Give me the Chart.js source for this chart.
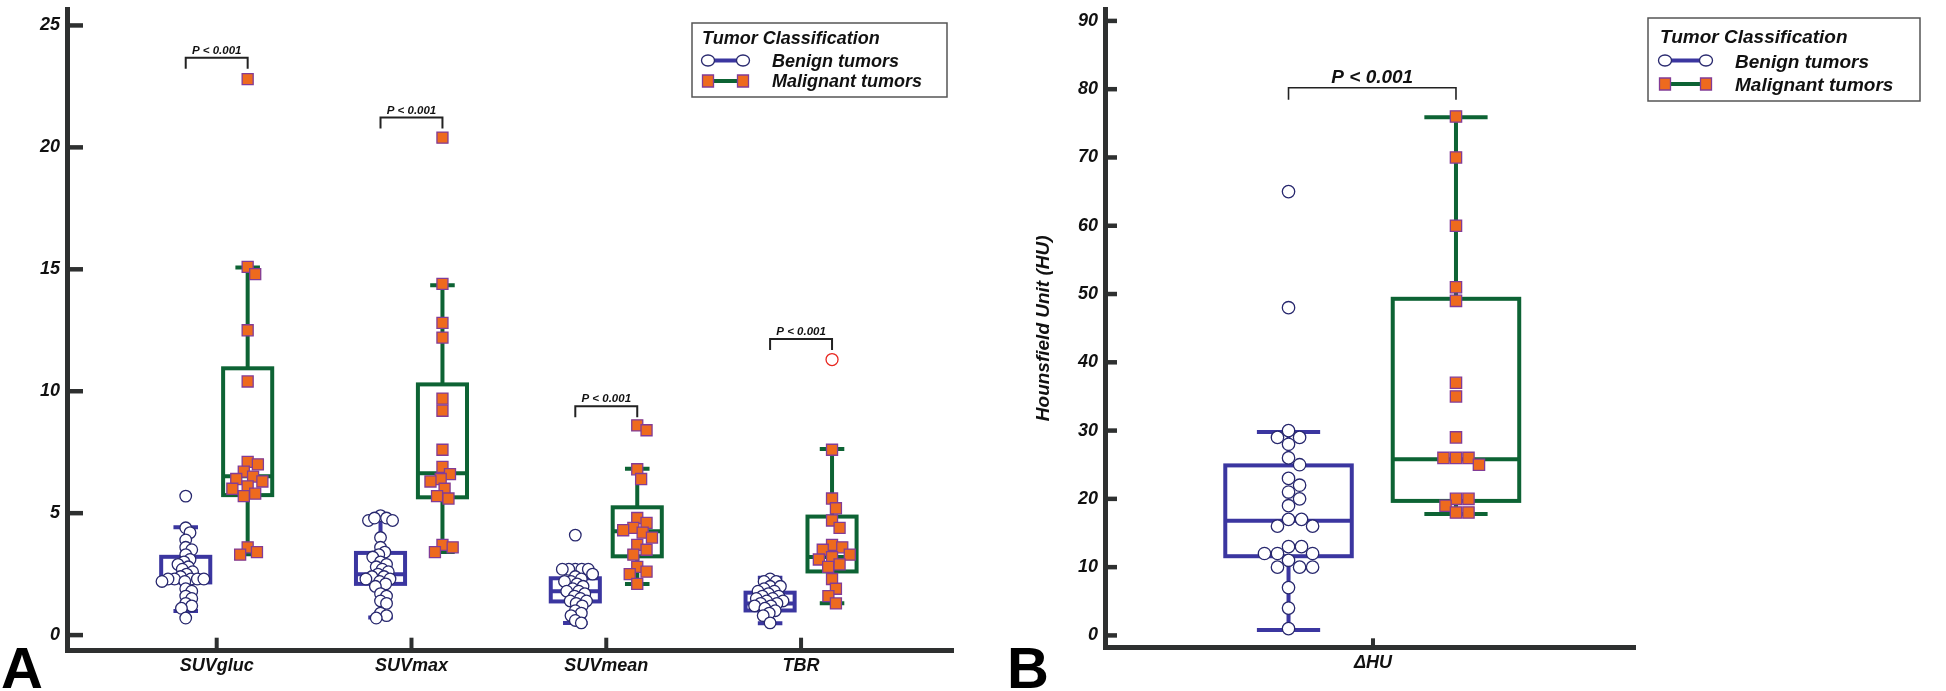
<!DOCTYPE html>
<html>
<head>
<meta charset="utf-8">
<script src="https://cdn.jsdelivr.net/npm/chart.js@4.4.0/dist/chart.umd.min.js"></script>
<style>
    html, body { margin: 0; padding: 0; background: #fff; }
    #wrap { position: relative; width: 1946px; height: 691px; overflow: hidden; }
    canvas { position: absolute; top: 0; }
    #chartA { left: 0; }
    #chartB { left: 1000px; }
</style>
</head>
<body>
<div id="wrap">
    <canvas id="chartA" width="1000" height="691"></canvas>
    <canvas id="chartB" width="946" height="691"></canvas>
</div>
<script>
// ---- panel A ----
var categoriesA = ['SUVgluc', 'SUVmax', 'SUVmean', 'TBR'];
var yTicksA = [0, 5, 10, 15, 20, 25];

var benignSUVgluc = [5.7, 4.4, 4.2, 3.9, 3.6, 3.5, 3.3, 3.1, 3.0, 2.9, 2.8, 2.7, 2.6, 2.5, 2.4, 2.3, 2.3, 2.3, 2.3, 2.3, 2.2, 2.2, 1.9, 1.8, 1.6, 1.5, 1.3, 1.2, 1.1, 0.7];
var malignantSUVgluc = [22.8, 15.1, 14.8, 12.5, 10.4, 7.1, 7.0, 6.7, 6.5, 6.4, 6.3, 6.1, 6.0, 5.8, 5.7, 3.6, 3.4, 3.3];
var benignSUVmax = [4.9, 4.8, 4.7, 4.7, 4.8, 4.0, 3.6, 3.4, 3.3, 3.2, 3.0, 2.9, 2.8, 2.7, 2.6, 2.5, 2.4, 2.4, 2.3, 2.3, 2.2, 2.1, 2.0, 1.7, 1.6, 1.4, 1.3, 0.9, 0.8, 0.7];
var malignantSUVmax = [20.4, 14.4, 12.8, 12.2, 9.7, 9.2, 7.6, 6.9, 6.6, 6.4, 6.3, 6.0, 5.7, 5.6, 3.7, 3.6, 3.4];
var benignSUVmean = [4.1, 2.7, 2.7, 2.7, 2.7, 2.7, 2.5, 2.4, 2.3, 2.2, 2.2, 2.1, 2.0, 1.9, 1.8, 1.8, 1.7, 1.6, 1.5, 1.4, 1.4, 1.3, 1.2, 1.0, 0.9, 0.8, 0.6, 0.5];
var malignantSUVmean = [8.6, 8.4, 6.8, 6.4, 4.8, 4.6, 4.4, 4.3, 4.2, 4.0, 3.7, 3.5, 3.3, 2.8, 2.6, 2.5, 2.1];
var benignTBR = [2.3, 2.2, 2.2, 2.0, 2.0, 1.9, 1.8, 1.8, 1.7, 1.6, 1.6, 1.5, 1.5, 1.4, 1.4, 1.3, 1.3, 1.2, 1.2, 1.1, 1.0, 0.9, 0.8, 0.5];
var malignantTBR = [7.6, 5.6, 5.2, 4.7, 4.4, 3.7, 3.6, 3.5, 3.3, 3.2, 3.1, 2.9, 2.8, 2.3, 1.9, 1.6, 1.3];
var outlierTBR = [11.3];

// box stats: [whisker low, q1, median, q3, whisker high]
var benignBoxA = [[0.99, 2.16, 2.3, 3.21, 4.42], [0.72, 2.1, 2.5, 3.37, 4.84], [0.5, 1.38, 1.8, 2.33, 2.7], [0.49, 1.01, 1.3, 1.74, 2.35]];
var malignantBoxA = [[3.32, 5.74, 6.51, 10.94, 15.07], [3.41, 5.65, 6.64, 10.28, 14.35], [2.1, 3.23, 4.26, 5.24, 6.82], [1.31, 2.61, 3.2, 4.86, 7.63]];
var bracketA = [23.68, 21.22, 9.38, 12.14];
var pTextA = ['P < 0.001', 'P < 0.001', 'P < 0.001', 'P < 0.001'];

// ---- panel B ----
var categoriesB = ['\u0394HU'];
var yTicksB = [0, 10, 20, 30, 40, 50, 60, 70, 80, 90];
var benignHU = [65, 48, 30, 29, 29, 28, 26, 25, 23, 22, 21, 20, 19, 17, 17, 16, 16, 13, 13, 12, 12, 12, 11, 10, 10, 10, 7, 4, 1];
var malignantHU = [76, 70, 60, 51, 49, 37, 35, 29, 26, 26, 26, 25, 20, 20, 19, 18, 18];
var benignBoxB = [[0.8, 11.6, 16.8, 24.9, 29.8]];
var malignantBoxB = [[17.8, 19.7, 25.8, 49.3, 75.9]];
var bracketB = [80.2];
var pTextB = ['P < 0.001'];

var seriesNames = ['Benign tumors', 'Malignant tumors'];
var legendTitle = 'Tumor Classification';
var yTitleB = 'Hounsfield Unit (HU)';

// ---- styles ----
var FONT = "'Liberation Sans', Arial, sans-serif";
var AXIS = '#2e3030';
var BLUE = '#3b36a0';
var GREEN = '#0d6334';
var ORANGE = '#ee6a1e';
var SQ_EDGE = '#823c96';
var CIRC_EDGE = '#28286e';

Chart.defaults.font.family = FONT;

function swarm(values, toPix, d) {
    var placed = [];
    var out = new Array(values.length);
    var order = values.map(function(v, i) { return i; }).sort(function(a, b) { return values[b] - values[a]; });
    order.forEach(function(i) {
        var y = toPix(values[i]);
        var near = placed.filter(function(p) { return Math.abs(p.y - y) < d; });
        var cands = [0];
        near.forEach(function(p) {
            var dx = Math.sqrt(d * d - (p.y - y) * (p.y - y));
            cands.push(p.x + dx, p.x - dx);
        });
        cands.sort(function(a, b) { return Math.abs(a) - Math.abs(b); });
        var x = cands.find(function(c) {
            return near.every(function(p) { return (p.x - c) * (p.x - c) + (p.y - y) * (p.y - y) >= d * d - 0.01; });
        });
        placed.push({ x: x, y: y });
        out[i] = x;
    });
    return out;
}

function points(groups, offset) {
    var data = [];
    groups.forEach(function(vals, i) {
        vals.forEach(function(v) { data.push({ x: i + 1 + offset, y: v }); });
    });
    return data;
}

function applySwarm(chart, dsIndex, groups, offset, d) {
    var xs = chart.scales.x, ys = chart.scales.y;
    var unit = xs.getPixelForValue(1) - xs.getPixelForValue(0);
    var data = [];
    groups.forEach(function(vals, i) {
        var offs = swarm(vals, function(v) { return ys.getPixelForValue(v); }, d);
        vals.forEach(function(v, k) { data.push({ x: i + 1 + offset + offs[k] / unit, y: v }); });
    });
    chart.data.datasets[dsIndex].data = data;
}

var boxPlugin = {
    id: 'boxes',
    beforeDatasetsDraw: function(chart, args, opts) {
        var ctx = chart.ctx, xs = chart.scales.x, ys = chart.scales.y, area = chart.chartArea;
        ctx.save();
        // inward tick marks
        ctx.strokeStyle = AXIS;
        ctx.lineWidth = 4.5;
        ys.ticks.forEach(function(t) {
            var py = ys.getPixelForValue(t.value);
            ctx.beginPath();
            ctx.moveTo(area.left, py);
            ctx.lineTo(area.left + opts.yTick, py);
            ctx.stroke();
        });
        ctx.lineWidth = 4;
        xs.ticks.forEach(function(t) {
            var px = xs.getPixelForValue(t.value);
            ctx.beginPath();
            ctx.moveTo(px, area.bottom);
            ctx.lineTo(px, area.bottom - opts.xTick);
            ctx.stroke();
        });
        // box plots
        opts.groups.forEach(function(g) {
            g.stats.forEach(function(s, i) {
                var c = i + 1 + g.offset;
                var cx = xs.getPixelForValue(c);
                var half = xs.getPixelForValue(c + opts.half) - cx;
                var cap = half / 2;
                var lo = ys.getPixelForValue(s[0]), q1 = ys.getPixelForValue(s[1]);
                var md = ys.getPixelForValue(s[2]), q3 = ys.getPixelForValue(s[3]);
                var hi = ys.getPixelForValue(s[4]);
                ctx.strokeStyle = g.color;
                ctx.lineWidth = opts.lineWidth;
                ctx.beginPath();
                ctx.moveTo(cx, q3); ctx.lineTo(cx, hi);
                ctx.moveTo(cx, q1); ctx.lineTo(cx, lo);
                ctx.moveTo(cx - cap, hi); ctx.lineTo(cx + cap, hi);
                ctx.moveTo(cx - cap, lo); ctx.lineTo(cx + cap, lo);
                ctx.moveTo(cx - half, md); ctx.lineTo(cx + half, md);
                ctx.stroke();
                ctx.strokeRect(cx - half, q3, 2 * half, q1 - q3);
            });
        });
        ctx.restore();
    },
    afterDatasetsDraw: function(chart, args, opts) {
        var ctx = chart.ctx, xs = chart.scales.x, ys = chart.scales.y;
        ctx.save();
        // p-value brackets
        opts.brackets.forEach(function(b, i) {
            var x1 = xs.getPixelForValue(i + 1 + opts.groups[0].offset);
            var x2 = xs.getPixelForValue(i + 1 + opts.groups[1].offset);
            var py = ys.getPixelForValue(b);
            ctx.strokeStyle = '#222';
            ctx.lineWidth = opts.bracketWidth;
            ctx.beginPath();
            ctx.moveTo(x1, py + opts.bracketTick);
            ctx.lineTo(x1, py);
            ctx.lineTo(x2, py);
            ctx.lineTo(x2, py + opts.bracketTick);
            ctx.stroke();
            ctx.fillStyle = '#111';
            ctx.font = 'italic bold ' + opts.pSize + 'px ' + FONT;
            ctx.textAlign = 'center';
            ctx.textBaseline = 'alphabetic';
            ctx.fillText(opts.pText[i], (x1 + x2) / 2, py - opts.pGap);
        });
        ctx.restore();
    },
    afterDraw: function(chart, args, opts) {
        var ctx = chart.ctx, L = opts.legend;
        ctx.save();
        ctx.strokeStyle = '#555';
        ctx.lineWidth = 1.5;
        ctx.strokeRect(L.x, L.y, L.w, L.h);
        ctx.fillStyle = '#111';
        ctx.font = 'italic bold ' + L.size + 'px ' + FONT;
        ctx.textAlign = 'left';
        ctx.textBaseline = 'alphabetic';
        ctx.fillText(legendTitle, L.titleX, L.titleY);
        var ds = chart.data.datasets;
        [0, 1].forEach(function(k) {
            var sy = L.rowY[k];
            var d = ds[k];
            ctx.strokeStyle = k === 0 ? BLUE : GREEN;
            ctx.lineWidth = 4;
            ctx.beginPath();
            ctx.moveTo(L.m1, sy);
            ctx.lineTo(L.m2, sy);
            ctx.stroke();
            [L.m1, L.m2].forEach(function(mx) {
                ctx.fillStyle = d.backgroundColor;
                ctx.strokeStyle = d.borderColor;
                ctx.lineWidth = 1.3;
                ctx.beginPath();
                if (d.pointStyle === 'rect') {
                    ctx.rect(mx - 5.5, sy - 6, 11, 12);
                } else {
                    ctx.ellipse(mx, sy, 6.5, 5.5, 0, 0, Math.PI * 2);
                }
                ctx.fill();
                ctx.stroke();
            });
            ctx.fillStyle = '#111';
            ctx.fillText(d.label, L.textX, sy + L.textDy);
        });
        // panel letter
        ctx.font = 'bold 58px ' + FONT;
        ctx.fillStyle = '#000';
        ctx.fillText(opts.letter, opts.letterX, 688);
        ctx.restore();
    }
};

function axisFont(size) {
    return { family: FONT, size: size, weight: 'bold', style: 'italic' };
}

function makeChart(id, cfg) {
    var datasets = [{
        label: seriesNames[0],
        data: points(cfg.benign, cfg.offset[0]),
        pointStyle: 'circle',
        pointRadius: cfg.circleR,
        backgroundColor: '#ffffff',
        borderColor: CIRC_EDGE,
        borderWidth: 1.3
    }, {
        label: seriesNames[1],
        data: points(cfg.malignant, cfg.offset[1]),
        pointStyle: 'rect',
        pointRadius: cfg.squareR,
        backgroundColor: ORANGE,
        borderColor: SQ_EDGE,
        borderWidth: 1.3
    }];
    if (cfg.outliers) {
        datasets.push({
            label: 'outlier',
            data: cfg.outliers,
            pointStyle: 'circle',
            pointRadius: 6,
            backgroundColor: 'rgba(0,0,0,0)',
            borderColor: '#e8261f',
            borderWidth: 1.3
        });
    }
    var chart = new Chart(document.getElementById(id), {
        type: 'scatter',
        data: { datasets: datasets },
        plugins: [boxPlugin],
        options: {
            responsive: false,
            animation: false,
            events: [],
            layout: { padding: cfg.padding },
            plugins: {
                legend: { display: false },
                tooltip: { enabled: false },
                boxes: cfg.boxes
            },
            scales: {
                x: {
                    type: 'linear',
                    min: cfg.xMin,
                    max: cfg.xMax,
                    afterBuildTicks: function(s) { s.ticks = cfg.categories.map(function(c, i) { return { value: i + 1 }; }); },
                    afterFit: function(s) { s.height = cfg.xHeight; s.paddingLeft = 0; s.paddingRight = 0; },
                    grid: { display: false, drawTicks: false },
                    border: { display: true, width: 5, color: AXIS },
                    ticks: {
                        callback: function(v) { return cfg.categories[Math.round(v) - 1]; },
                        font: axisFont(18),
                        color: '#111',
                        padding: 5,
                        maxRotation: 0,
                        autoSkip: false
                    }
                },
                y: {
                    min: cfg.yMin,
                    max: cfg.yMax,
                    afterBuildTicks: function(s) { s.ticks = cfg.yTicks.map(function(v) { return { value: v }; }); },
                    afterFit: function(s) { s.width = cfg.yWidth; s.paddingTop = 0; s.paddingBottom = 0; },
                    grid: { display: false, drawTicks: false },
                    border: { display: true, width: 5, color: AXIS },
                    title: cfg.yTitle,
                    ticks: {
                        font: axisFont(18),
                        color: '#111',
                        padding: 7,
                        autoSkip: false
                    }
                }
            }
        }
    });
    applySwarm(chart, 0, cfg.benign, cfg.offset[0], cfg.dCircle);
    applySwarm(chart, 1, cfg.malignant, cfg.offset[1], cfg.dSquare);
    chart.update('none');
    return chart;
}

var chartA = makeChart('chartA', {
    categories: categoriesA,
    yTicks: yTicksA,
    benign: [benignSUVgluc, benignSUVmax, benignSUVmean, benignTBR],
    malignant: [malignantSUVgluc, malignantSUVmax, malignantSUVmean, malignantTBR],
    outliers: outlierTBR.map(function(v) { return { x: 4 + 0.159, y: v }; }),
    offset: [-0.159, 0.159],
    circleR: 5.8,
    squareR: 7.8,
    dCircle: 6.5,
    dSquare: 10.5,
    xMin: 0.2315, xMax: 4.78,
    yMin: -0.64, yMax: 25.67,
    yWidth: 67, xHeight: 40.3,
    padding: { left: 0, right: 47, top: 1.7, bottom: 0 },
    yTitle: { display: false },
    boxes: {
        groups: [{ offset: -0.159, color: BLUE, stats: benignBoxA }, { offset: 0.159, color: GREEN, stats: malignantBoxA }],
        half: 0.126, lineWidth: 4,
        yTick: 16, xTick: 13,
        brackets: bracketA, pText: pTextA, pSize: 11.5, pGap: 4, bracketTick: 11, bracketWidth: 2,
        legend: { x: 692, y: 23, w: 255, h: 74, size: 18, titleX: 702, titleY: 44, rowY: [60.5, 81], m1: 708, m2: 743, textX: 772, textDy: 6 },
        letter: 'A', letterX: 1
    }
});

var chartB = makeChart('chartB', {
    categories: categoriesB,
    yTicks: yTicksB,
    benign: [benignHU],
    malignant: [malignantHU],
    outliers: null,
    offset: [-0.497, 0.488],
    circleR: 6.2,
    squareR: 8,
    dCircle: 13,
    dSquare: 12.5,
    xMin: -0.5765, xMax: 2.541,
    yMin: -1.74, yMax: 91.7,
    yWidth: 105, xHeight: 43.7,
    padding: { left: 0, right: 311, top: 2.7, bottom: 0 },
    yTitle: { display: true, text: yTitleB, font: axisFont(19), color: '#111', padding: { top: 32, bottom: 0 } },
    boxes: {
        groups: [{ offset: -0.497, color: BLUE, stats: benignBoxB }, { offset: 0.488, color: GREEN, stats: malignantBoxB }],
        half: 0.372, lineWidth: 4,
        yTick: 12, xTick: 9,
        brackets: bracketB, pText: pTextB, pSize: 19, pGap: 5, bracketTick: 12, bracketWidth: 1.6,
        legend: { x: 648, y: 18, w: 272, h: 83, size: 19, titleX: 660, titleY: 43, rowY: [60.5, 84], m1: 665, m2: 706, textX: 735, textDy: 7 },
        letter: 'B', letterX: 7
    }
});
</script>
</body>
</html>
